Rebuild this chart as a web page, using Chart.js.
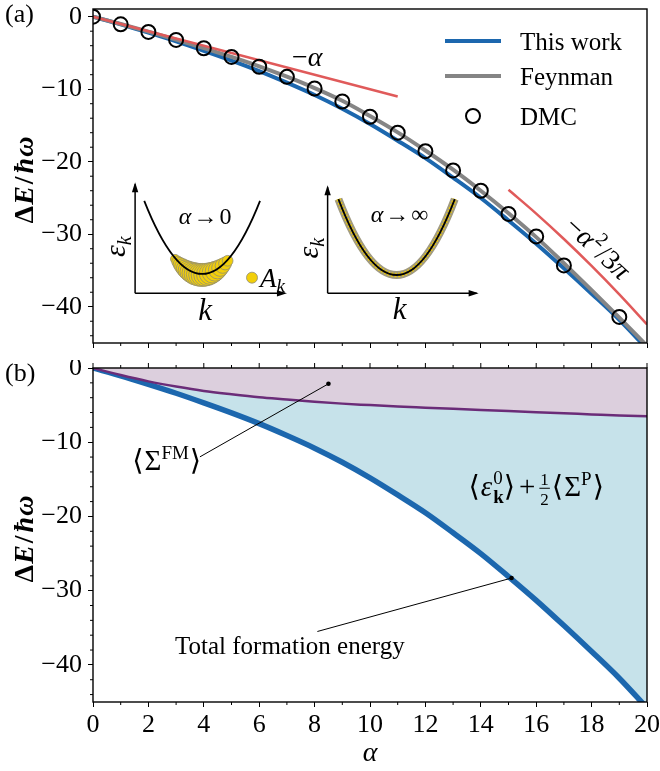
<!DOCTYPE html>
<html>
<head>
<meta charset="utf-8">
<script src="https://cdn.jsdelivr.net/npm/chart.js@4.4.0/dist/chart.umd.min.js"></script>
<style>
html, body { margin: 0; padding: 0; background: #fff; }
#ca { position: absolute; left: 0; top: 0; }
#cb { position: absolute; left: 0; top: 360px; }
</style>
</head>
<body>
<canvas id="ca" width="660" height="356"></canvas>
<canvas id="cb" width="660" height="411"></canvas>
<script>
// data
var alpha = [0, 1, 2, 3, 4, 5, 6, 7, 8, 9, 10, 11, 12, 13, 14, 15, 16, 17, 18, 19, 20];
var thisWork = [0, -1.05, -2.2, -3.4, -4.7, -6.05, -7.5, -9.1, -10.8, -12.7, -14.8, -17.1, -19.5, -22.2, -25.0, -28.1, -31.3, -34.7, -38.2, -41.8, -45.8];
var feynman = [0, -1.01, -2.07, -3.17, -4.33, -5.55, -6.85, -8.28, -9.85, -11.6, -13.7, -15.95, -18.45, -21.1, -24.0, -27.1, -30.4, -34.0, -37.7, -41.5, -45.4];
var dmcAlpha = [0, 1, 2, 3, 4, 5, 6, 7, 8, 9, 10, 11, 12, 13, 14, 15, 16, 17, 19];
var dmcE = [0, -1.05, -2.1, -3.2, -4.35, -5.55, -6.9, -8.3, -9.9, -11.7, -13.8, -16.0, -18.55, -21.2, -24.0, -27.2, -30.3, -34.3, -41.4];
var weakAlpha = [0, 11];
var weakE = [0, -11];
var strongAlpha = [15, 16, 17, 18, 19, 20];
var strongE = [-23.87, -27.16, -30.66, -34.37, -38.30, -42.44];
var sigmaFM = [0, -0.95, -1.8, -2.5, -3.1, -3.55, -3.95, -4.25, -4.55, -4.8, -5.0, -5.2, -5.35, -5.5, -5.65, -5.8, -5.95, -6.1, -6.25, -6.4, -6.5];
var xTicks = [0, 2, 4, 6, 8, 10, 12, 14, 16, 18, 20];
var yTicks = [-40, -30, -20, -10, 0];

var SERIF = '"Liberation Serif", "DejaVu Serif", serif';
var BLUE = '#1c67ae', GRAY = '#858585', RED = '#e05a5a', PURPLE = '#6b2c78';

function xy(xs, ys) {
  return xs.map(function (x, i) { return { x: x, y: ys[i] }; });
}
function minus(v) { return String(v).replace('-', '\u2212'); }
function f(px, style) { return (style ? style + ' ' : '') + px + 'px ' + SERIF; }

// text made of pieces: [text, font, dy, advance, gap]
function seq(ctx, x, y, parts, draw) {
  parts.forEach(function (p) {
    ctx.font = p[1];
    if (p[0] === 'FRAC') {
      var w = Math.max(ctx.measureText(p[2][0]).width, ctx.measureText(p[2][1]).width);
      if (draw) {
        ctx.textAlign = 'center';
        ctx.fillText(p[2][0], x + w / 2 + 1, y - 11);
        ctx.fillText(p[2][1], x + w / 2 + 1, y + 9);
        ctx.textAlign = 'left';
        ctx.fillRect(x, y - 8, w + 2, 1);
      }
      x += w + 4;
      return;
    }
    if (draw) ctx.fillText(p[0], x, y + (p[2] || 0));
    if (p[3] !== false) x += ctx.measureText(p[0]).width + (p[4] || 0);
  });
  return x;
}
function label(ctx, x, y, parts, align) {
  ctx.textAlign = 'left';
  ctx.textBaseline = 'alphabetic';
  var w = seq(ctx, 0, 0, parts, false);
  var sx = align === 'center' ? x - w / 2 : (align === 'right' ? x - w : x);
  seq(ctx, sx, y, parts, true);
}

function arrow(ctx, x1, y1, x2, y2) {
  ctx.beginPath(); ctx.moveTo(x1, y1); ctx.lineTo(x2, y2); ctx.stroke();
  var a = Math.atan2(y2 - y1, x2 - x1), s = 8, h = 3.2;
  ctx.beginPath();
  ctx.moveTo(x2 + 2 * Math.cos(a), y2 + 2 * Math.sin(a));
  ctx.lineTo(x2 - s * Math.cos(a) + h * Math.sin(a), y2 - s * Math.sin(a) - h * Math.cos(a));
  ctx.lineTo(x2 - s * Math.cos(a) - h * Math.sin(a), y2 - s * Math.sin(a) + h * Math.cos(a));
  ctx.closePath(); ctx.fill();
}

function frameAndTicks(chart, topTicks) {
  var ctx = chart.ctx, ca = chart.chartArea, xs = chart.scales.x, ys = chart.scales.y;
  ctx.save();
  ctx.strokeStyle = '#000';
  ctx.lineWidth = 1;
  ctx.beginPath();
  for (var a = 1; a < 20; a += 2) {
    var px = xs.getPixelForValue(a);
    ctx.moveTo(px, ca.bottom); ctx.lineTo(px, ca.bottom + 3);
  }
  if (topTicks) {
    for (var b = 0; b <= 20; b++) {
      var qx = xs.getPixelForValue(b);
      ctx.moveTo(qx, ca.top); ctx.lineTo(qx, ca.top - (b % 2 === 0 ? 5 : 3));
    }
  }
  for (var e = -44; e <= 0; e += 2) {
    if (e % 10 === 0) continue;
    var py = ys.getPixelForValue(e);
    ctx.moveTo(ca.left, py); ctx.lineTo(ca.left - 3, py);
  }
  ctx.stroke();
  ctx.lineWidth = 1.4;
  ctx.strokeRect(ca.left, ca.top, ca.right - ca.left, ca.bottom - ca.top);
  ctx.restore();
}

function yTitle(chart) {
  var ctx = chart.ctx, ca = chart.chartArea;
  ctx.save();
  ctx.fillStyle = '#000';
  ctx.translate(24, (ca.top + ca.bottom) / 2 + 4);
  ctx.rotate(-Math.PI / 2);
  label(ctx, 0, 9, [['\u0394', f(28, 'bold'), 0, true, 1], ['E', f(28, 'italic bold'), 0, true, 2],
    ['/', f(28, 'bold'), 0, true, 3], ['\u0127', f(28, 'italic bold'), 0, true, 1], ['\u03c9', f(28, 'italic bold')]], 'center');
  ctx.restore();
}

function scaleOpts(showX, xHeight) {
  return {
    x: {
      type: 'linear', min: 0, max: 20,
      afterBuildTicks: function (s) { s.ticks = xTicks.map(function (v) { return { value: v }; }); },
      afterFit: function (s) { s.height = xHeight; s.paddingLeft = 0; s.paddingRight = 0; },
      ticks: { display: showX, autoSkip: false, maxRotation: 0, padding: 3, color: '#000', font: { family: SERIF, size: 26 } },
      grid: { drawOnChartArea: false, drawTicks: true, tickLength: 5, color: '#000', lineWidth: 1 },
      border: { display: false },
      title: { display: showX, text: '\u03b1', color: '#000', font: { family: SERIF, size: 28, style: 'italic' }, padding: { top: 0, bottom: 1 } }
    },
    y: {
      type: 'linear', min: -45, max: 0,
      afterBuildTicks: function (s) { s.ticks = yTicks.map(function (v) { return { value: v }; }); },
      afterFit: function (s) { s.width = 93; s.paddingTop = 0; s.paddingBottom = 0; },
      ticks: { padding: 6, color: '#000', font: { family: SERIF, size: 26 }, callback: function (v) { return minus(v); } },
      grid: { drawOnChartArea: false, drawTicks: true, tickLength: 5, color: '#000', lineWidth: 1 },
      border: { display: false }
    }
  };
}

// ---------- panel (a) ----------
var inset1 = { ox: 1.52, oy: -38.15, top: -23.1, right: 6.93, cx: 3.94, hw: 2.09, ptop: -25.39, pmin: -35.48 };
var inset2 = { ox: 8.47, oy: -38.13, top: -23.53, right: 13.85, cx: 10.96, hw: 2.10, ptop: -25.15, pmin: -35.62 };

function drawInset(chart, g, strong) {
  var ctx = chart.ctx, xs = chart.scales.x, ys = chart.scales.y;
  var X = function (v) { return xs.getPixelForValue(v); }, Y = function (v) { return ys.getPixelForValue(v); };
  var ox = X(g.ox), oy = Y(g.oy), cx = X(g.cx), w = X(g.cx + g.hw) - cx, yt = Y(g.ptop), ym = Y(g.pmin);
  ctx.save();
  ctx.strokeStyle = '#000'; ctx.fillStyle = '#000'; ctx.lineWidth = 1.5;
  arrow(ctx, ox, oy, ox, Y(g.top));
  arrow(ctx, ox, oy, X(g.right), oy);
  var para = function () {
    ctx.beginPath();
    ctx.moveTo(cx - w, yt);
    ctx.quadraticCurveTo(cx, 2 * ym - yt, cx + w, yt);
  };
  if (!strong) {
    for (var dx = -27; dx <= 27; dx += 2.5) {
      var py = ym - (ym - yt) * (dx / w) * (dx / w);
      var r = 3 + 8.5 * Math.max(0, 1 - (dx / 30) * (dx / 30));
      ctx.beginPath(); ctx.arc(cx + dx, py + 1, r, 0, 2 * Math.PI);
      ctx.fillStyle = '#f2cf0a'; ctx.fill();
      ctx.strokeStyle = '#8f8c76'; ctx.lineWidth = 0.8; ctx.stroke();
    }
  } else {
    para(); ctx.strokeStyle = '#a09a80'; ctx.lineWidth = 8; ctx.stroke();
    para(); ctx.strokeStyle = '#ecc90c'; ctx.lineWidth = 4.5; ctx.setLineDash([2, 1.5]); ctx.stroke();
    ctx.setLineDash([]);
  }
  para(); ctx.strokeStyle = '#000'; ctx.lineWidth = 1.8; ctx.stroke();
  ctx.fillStyle = '#000';
  label(ctx, cx + 3, Y(g.ptop - 2.05) + 8, [['\u03b1', f(24, 'italic'), 0, true, 2], ['\u2192', f(24), 0, true, 2], [strong ? '\u221e' : '0', f(24)]], 'center');
  label(ctx, cx + 3, Y(g.oy - 2.1) + 11, [['k', f(31, 'italic')]], 'center');
  ctx.save();
  ctx.translate(ox - 19, (oy + Y(g.top)) / 2 + 8);
  ctx.rotate(-Math.PI / 2);
  label(ctx, 0, 9, [['\u03b5', f(30, 'italic')], ['k', f(20, 'italic'), 6]], 'center');
  ctx.restore();
  ctx.restore();
}

var panelA = {
  id: 'panelA',
  beforeDatasetsDraw: function (chart) {
    drawInset(chart, inset1, false);
    drawInset(chart, inset2, true);
    var ctx = chart.ctx, xs = chart.scales.x, ys = chart.scales.y;
    var dx = xs.getPixelForValue(5.74), dy = ys.getPixelForValue(-35.99);
    ctx.save();
    ctx.beginPath(); ctx.arc(dx, dy, 5.5, 0, 2 * Math.PI);
    ctx.fillStyle = '#f2cf0a'; ctx.fill(); ctx.strokeStyle = '#8f8c76'; ctx.lineWidth = 0.8; ctx.stroke();
    ctx.fillStyle = '#000';
    label(ctx, dx + 8, dy + 9, [['A', f(27, 'italic')], ['k', f(19, 'italic'), 5]], 'left');
    ctx.restore();
  },
  afterDraw: function (chart) {
    var ctx = chart.ctx, xs = chart.scales.x, ys = chart.scales.y;
    frameAndTicks(chart, false);
    yTitle(chart);
    ctx.save();
    ctx.fillStyle = '#000';
    label(ctx, 5, 22, [['(a)', f(26)]], 'left');
    // asymptote labels
    label(ctx, xs.getPixelForValue(7.73), ys.getPixelForValue(-5.7) + 8, [['\u2212', f(28)], ['\u03b1', f(28, 'italic')]], 'center');
    ctx.save();
    ctx.translate(xs.getPixelForValue(18.2), ys.getPixelForValue(-32.0));
    ctx.rotate(43 * Math.PI / 180);
    label(ctx, 0, 8, [['\u2212', f(28)], ['\u03b1', f(28, 'italic'), 0, true, 1], ['2', f(19), -12, true, 1], ['/', f(28)], ['3', f(28)], ['\u03c0', f(28, 'italic')]], 'center');
    ctx.restore();
    // legend
    var ds = chart.data.datasets;
    ctx.lineWidth = 4;
    ctx.strokeStyle = BLUE;
    ctx.beginPath(); ctx.moveTo(445, 41); ctx.lineTo(501, 41); ctx.stroke();
    ctx.strokeStyle = GRAY;
    ctx.beginPath(); ctx.moveTo(445, 76); ctx.lineTo(501, 76); ctx.stroke();
    ctx.strokeStyle = '#000'; ctx.lineWidth = 2;
    ctx.beginPath(); ctx.arc(473, 116, 7, 0, 2 * Math.PI); ctx.stroke();
    label(ctx, 520, 50, [[ds[0].label, f(25)]], 'left');
    label(ctx, 520, 85, [[ds[1].label, f(25)]], 'left');
    label(ctx, 520, 125, [[ds[4].label, f(25)]], 'left');
    ctx.restore();
  }
};

new Chart(document.getElementById('ca'), {
  type: 'line',
  data: {
    datasets: [
      { label: 'This work', data: xy(alpha, thisWork), borderColor: BLUE, borderWidth: 4, pointRadius: 0, cubicInterpolationMode: 'monotone', order: 4 },
      { label: 'Feynman', data: xy(alpha, feynman), borderColor: GRAY, borderWidth: 4, pointRadius: 0, cubicInterpolationMode: 'monotone', order: 3 },
      { label: 'weak', data: xy(weakAlpha, weakE), borderColor: RED, borderWidth: 2.5, pointRadius: 0, order: 2 },
      { label: 'strong', data: xy(strongAlpha, strongE), borderColor: RED, borderWidth: 2.5, pointRadius: 0, cubicInterpolationMode: 'monotone', order: 2 },
      { label: 'DMC', data: xy(dmcAlpha, dmcE), showLine: false, pointRadius: 7, pointBorderWidth: 2, pointBorderColor: '#000', pointBackgroundColor: 'rgba(0,0,0,0)', order: 0 }
    ]
  },
  options: {
    responsive: false,
    animation: false,
    layout: { padding: { left: 0, right: 13, top: 8, bottom: 0 } },
    plugins: { legend: { display: false }, tooltip: { enabled: false } },
    scales: (function () { var s = scaleOpts(false, 13); s.y.max = 1.06; return s; })()
  },
  plugins: [panelA]
});

// ---------- panel (b) ----------
var panelB = {
  id: 'panelB',
  afterDraw: function (chart) {
    var ctx = chart.ctx, xs = chart.scales.x, ys = chart.scales.y;
    var X = function (v) { return xs.getPixelForValue(v); }, Y = function (v) { return ys.getPixelForValue(v); };
    frameAndTicks(chart, true);
    yTitle(chart);
    ctx.save();
    ctx.fillStyle = '#000'; ctx.strokeStyle = '#000'; ctx.lineWidth = 1;
    label(ctx, 5, 21, [['(b)', f(26)]], 'left');
    // pointer lines
    ctx.beginPath(); ctx.moveTo(X(3.86), Y(-11.97)); ctx.lineTo(X(8.5), Y(-2.13)); ctx.stroke();
    ctx.beginPath(); ctx.arc(X(8.5), Y(-2.13), 2.3, 0, 2 * Math.PI); ctx.fill();
    ctx.beginPath(); ctx.moveTo(X(8.1), Y(-35.5)); ctx.lineTo(X(15.11), Y(-28.3)); ctx.stroke();
    ctx.beginPath(); ctx.arc(X(15.11), Y(-28.3), 2.3, 0, 2 * Math.PI); ctx.fill();
    label(ctx, X(2.66), Y(-12.4) + 10, [['\u27e8', f(29), 0, true, 1], ['\u03a3', f(29)], ['FM', f(19), -11, true, 1], ['\u27e9', f(29)]], 'center');
    label(ctx, X(2.96), Y(-37.5) + 8, [['Total formation energy', f(25)]], 'left');
    label(ctx, X(16.0), Y(-16.0) + 9, [['\u27e8', f(29), 0, true, 1], ['\u03b5', f(29, 'italic'), 0, true, 1], ['k', f(19, 'bold'), 7, false], ['0', f(19), -12, true, 1], ['\u27e9', f(29), 0, true, 4],
      ['+', f(29), 0, true, 4], ['FRAC', f(17), ['1', '2']], ['\u27e8', f(29), 0, true, 1], ['\u03a3', f(29)], ['P', f(19), -11, true, 1], ['\u27e9', f(29)]], 'center');
    ctx.restore();
  }
};

new Chart(document.getElementById('cb'), {
  type: 'line',
  data: {
    datasets: [
      { label: '\u27e8\u03a3FM\u27e9', data: xy(alpha, sigmaFM), borderColor: PURPLE, borderWidth: 2.5, pointRadius: 0, cubicInterpolationMode: 'monotone', fill: 'origin', backgroundColor: '#dccfdd' },
      { label: 'Total formation energy', data: xy(alpha, thisWork), borderColor: BLUE, borderWidth: 5.5, pointRadius: 0, cubicInterpolationMode: 'monotone', fill: '-1', backgroundColor: '#c6e2ea' }
    ]
  },
  options: {
    responsive: false,
    animation: false,
    layout: { padding: { left: 0, right: 13, top: 8, bottom: 0 } },
    plugins: { legend: { display: false }, tooltip: { enabled: false } },
    scales: scaleOpts(true, 69)
  },
  plugins: [panelB]
});
</script>
</body>
</html>
